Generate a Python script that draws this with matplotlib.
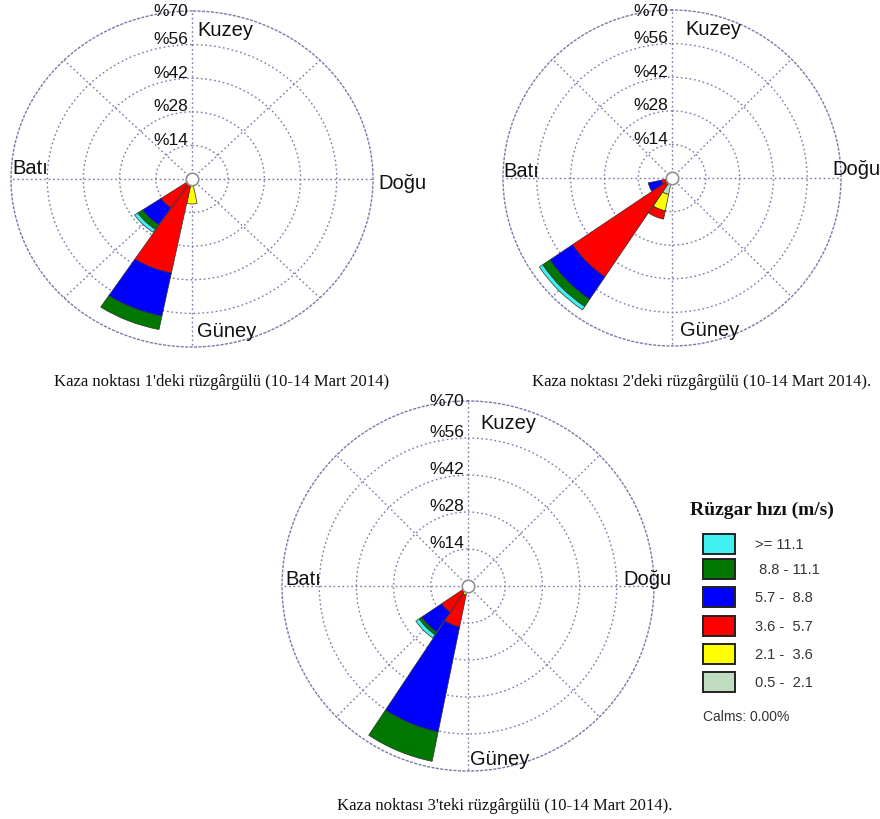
import numpy as np
import matplotlib
matplotlib.use("Agg")
import matplotlib.pyplot as plt
from matplotlib.patches import Rectangle

plt.rcParams['font.family'] = ['Liberation Sans', 'DejaVu Sans']

# 16 compass sectors, clockwise from north
directions = ['N', 'NNE', 'NE', 'ENE', 'E', 'ESE', 'SE', 'SSE',
              'S', 'SSW', 'SW', 'WSW', 'W', 'WNW', 'NW', 'NNW']

speed_labels = ['0.5 -  2.1', '2.1 -  3.6', '3.6 -  5.7',
                '5.7 -  8.8', ' 8.8 - 11.1', '>= 11.1']
speed_colors = ['#c0dcc0', '#ffff00', '#ff0000', '#0000ff', '#007800', '#40f0f0']
calms = 0.00

ring_values = [14, 28, 42, 56, 70]


def sectors(**kw):
    v = np.zeros(16)
    for k, val in kw.items():
        v[directions.index(k)] = val
    return v


# frequency (%) per speed class, one row per class (slowest first)
site1 = [
    sectors(S=2.0, SSW=0.5, SW=0.3),      # 0.5-2.1
    sectors(S=8.4, SSW=1.0, SW=0.7),      # 2.1-3.6
    sectors(SSW=38.5, SW=13.5),           # 3.6-5.7
    sectors(SSW=18.3, SW=8.5),            # 5.7-8.8
    sectors(SSW=5.7, SW=2.3),             # 8.8-11.1
    sectors(SW=1.5),                      # >=11.1
]
site2 = [
    sectors(SSW=7.0, SW=0.5, WSW=0.5),
    sectors(SSW=7.0, SW=1.0, WSW=1.0),
    sectors(SSW=3.5, SW=48.2, WSW=3.0),
    sectors(SW=11.3, WSW=5.5),
    sectors(SW=3.6),
    sectors(SW=1.7),
]
site3 = [
    sectors(SSW=0.5, SW=0.3),
    sectors(SSW=3.0, SW=1.0),
    sectors(SSW=12.3, SW=10.7),
    sectors(SSW=40.5, SW=9.0),
    sectors(SSW=11.4, SW=1.2),
    sectors(SW=1.5),
]

captions = ["Kaza noktası 1'deki rüzgârgülü (10-14 Mart 2014)",
            "Kaza noktası 2'deki rüzgârgülü (10-14 Mart 2014).",
            "Kaza noktası 3'teki rüzgârgülü (10-14 Mart 2014)."]

W, H = 880, 820
fig = plt.figure(figsize=(W / 100, H / 100), dpi=100)
fig.patch.set_facecolor('white')

# pixel boxes (x0, y0, x1, y1) and label offsets in units of the radius
panels = [
    dict(data=site1, box=(11, 12, 373, 348),
         kuzey=(0.028, 0.89), bati=(-0.99, 0.07), dogu=(1.03, -0.02), guney=(0.028, -0.90),
         cap=(222, 382)),
    dict(data=site2, box=(503, 11, 841, 347),
         kuzey=(0.077, 0.887), bati=(-1.0, 0.042), dogu=(0.947, 0.054), guney=(0.047, -0.90),
         cap=(702, 382)),
    dict(data=site3, box=(282, 402, 654, 772),
         kuzey=(0.065, 0.886), bati=(-0.984, 0.038), dogu=(0.833, 0.043), guney=(0.011, -0.935),
         cap=(505, 806)),
]

grid_color = '#7a7aa8'
grid_style = (0, (1.2, 2.0))
theta = np.radians(np.arange(16) * 22.5)
width = np.radians(22.0)
rmax = ring_values[-1]

for i, p in enumerate(panels):
    x0, y0, x1, y1 = p['box']
    ax = fig.add_axes([x0 / W, 1 - y1 / H, (x1 - x0) / W, (y1 - y0) / H], projection='polar')
    ax.set_theta_zero_location('N')
    ax.set_theta_direction(-1)
    ax.set_aspect('auto')

    bottom = np.zeros(16)
    for seg, col in zip(p['data'], speed_colors):
        m = seg > 0
        ax.bar(theta[m], seg[m], width=width, bottom=bottom[m], color=col,
               edgecolor='#303030', linewidth=0.5, zorder=3)
        bottom = bottom + seg

    ax.set_ylim(0, rmax)
    ax.set_yticks(ring_values[:-1])
    ax.set_yticklabels([])
    ax.set_xticks(np.radians(np.arange(0, 360, 45)))
    ax.set_xticklabels([])
    ax.grid(True, color=grid_color, linestyle=grid_style, linewidth=1.0)
    ax.spines['polar'].set_color(grid_color)
    ax.spines['polar'].set_linestyle(grid_style)
    ax.spines['polar'].set_linewidth(1.0)
    ax.set_facecolor('none')

    ax.plot([0], [0], 'o', ms=9, mfc='white', mec='#909090', mew=1.2, zorder=5,
            clip_on=False)

    # ring labels just left of the north axis
    for v in ring_values:
        rl = min(v + 2.5, rmax)
        ax.text(0.5 - 4 / (x1 - x0), 0.5 + 0.5 * rl / rmax, '%' + str(v),
                transform=ax.transAxes, ha='right', va='center', fontsize=12.5,
                color='#111111', zorder=6)

    for key, name in [('kuzey', 'Kuzey'), ('bati', 'Batı'),
                      ('dogu', 'Doğu'), ('guney', 'Güney')]:
        fx, fy = p[key]
        ax.text(0.5 + 0.5 * fx, 0.5 + 0.5 * fy, name, transform=ax.transAxes,
                ha='left', va='center', fontsize=14.5, color='#111111', zorder=6,
                clip_on=False)

    cx, cy = p['cap']
    fig.text(cx / W, 1 - cy / H, captions[i], ha='center', va='center',
             fontsize=12, family='Liberation Serif', color='#111111')

# legend block
lax = fig.add_axes([680 / W, 1 - 730 / H, 200 / W, 240 / H])
lax.set_xlim(680, 880)
lax.set_ylim(730, 490)
lax.axis('off')
lax.text(690, 510, 'Rüzgar hızı (m/s)', ha='left', va='center', fontsize=14,
         fontweight='bold', family='Liberation Serif', color='#111111')
row_y = [683, 655, 627, 598, 570, 545]
for lab, col, yy in zip(speed_labels, speed_colors, row_y):
    lax.add_patch(Rectangle((703, yy - 10), 32, 20, facecolor=col,
                            edgecolor='#222222', linewidth=1.4))
    lax.text(755, yy, lab, ha='left', va='center', fontsize=10.5, color='#333333')
lax.text(703, 717, 'Calms: %.2f%%' % calms, ha='left', va='center', fontsize=10,
         color='#333333')

fig.savefig('out.png', dpi=100, facecolor='white')
